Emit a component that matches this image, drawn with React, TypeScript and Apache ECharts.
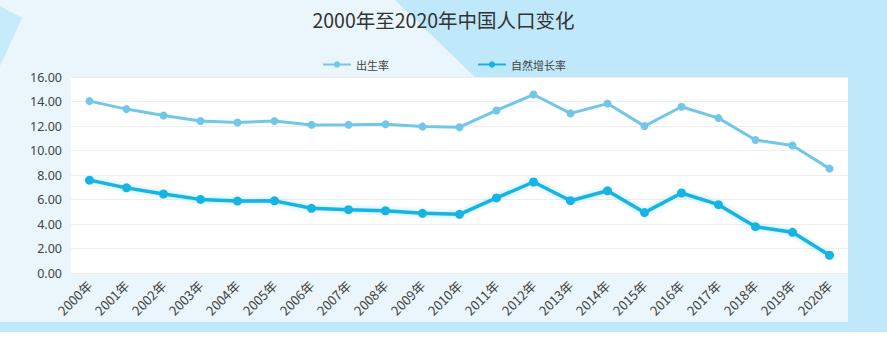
import React, { useEffect, useRef } from "react";
import * as echarts from "echarts";

const years = [
  "2000年", "2001年", "2002年", "2003年", "2004年", "2005年", "2006年", "2007年",
  "2008年", "2009年", "2010年", "2011年", "2012年", "2013年", "2014年", "2015年",
  "2016年", "2017年", "2018年", "2019年", "2020年",
];
const birthRate = [
  14.03, 13.38, 12.86, 12.41, 12.29, 12.4, 12.09, 12.1, 12.14, 11.95, 11.9,
  13.27, 14.57, 13.03, 13.83, 11.99, 13.57, 12.64, 10.86, 10.41, 8.52,
];
const naturalGrowth = [
  7.58, 6.95, 6.45, 6.01, 5.87, 5.89, 5.28, 5.17, 5.08, 4.87, 4.79,
  6.13, 7.43, 5.9, 6.71, 4.93, 6.53, 5.58, 3.78, 3.32, 1.45,
];
const seriesNames = ["出生率", "自然增长率"];
const titleText = "2000年至2020年中国人口变化";

export default function App() {
  const ref = useRef<HTMLDivElement>(null);
  useEffect(() => {
    document.body.style.margin = "0";
    const chart = echarts.init(ref.current!, null, { renderer: "svg" });
    const light = "#eaf6fb";
    const blue = "#bfe9fa";
    chart.setOption({
      animation: false,
      backgroundColor: light,
      graphic: [
        { type: "polygon", silent: true, z: -10, shape: { points: [[395, 0], [887, 0], [887, 80], [478, 80]] }, style: { fill: blue } },
        { type: "polygon", silent: true, z: -10, shape: { points: [[0, 6], [22, 18], [0, 66]] }, style: { fill: "#c6ebf9" } },
        { type: "rect", silent: true, z: -10, shape: { x: 848, y: 0, width: 39, height: 332 }, style: { fill: blue } },
        { type: "rect", silent: true, z: -10, shape: { x: 0, y: 322, width: 887, height: 10 }, style: { fill: blue } },
        { type: "rect", silent: true, z: -10, shape: { x: 0, y: 332, width: 887, height: 9 }, style: { fill: "#ffffff" } },
      ],
      title: {
        text: titleText,
        left: "center",
        top: 5,
        textStyle: { fontSize: 19.5, fontWeight: "normal", color: "#333", fontFamily: "Noto Sans CJK SC" },
      },
      legend: {
        data: seriesNames,
        top: 54,
        left: 317,
        itemGap: 88,
        itemWidth: 28,
        itemHeight: 8,
        textStyle: { fontSize: 11, color: "#444", fontFamily: "Noto Sans CJK SC" },
      },
      grid: {
        left: 71,
        right: 39,
        top: 77,
        bottom: 68,
        show: true,
        backgroundColor: "#ffffff",
        borderWidth: 0,
      },
      xAxis: {
        type: "category",
        data: years,
        boundaryGap: true,
        axisLine: { show: true, lineStyle: { color: "#eeeeee" } },
        axisTick: { show: false },
        axisLabel: { rotate: 45, fontSize: 13, color: "#444", margin: 10, interval: 0, fontFamily: "Noto Sans CJK SC" },
      },
      yAxis: {
        type: "value",
        min: 0,
        max: 16,
        interval: 2,
        axisLine: { show: false },
        axisTick: { show: false },
        splitLine: { lineStyle: { color: "#eeeeee" } },
        axisLabel: {
          fontSize: 12.5,
          color: "#444",
          margin: 9,
          formatter: (v: number) => v.toFixed(2),
          fontFamily: "Noto Sans",
        },
      },
      series: [
        {
          name: seriesNames[0],
          type: "line",
          data: birthRate,
          symbol: "circle",
          symbolSize: 8,
          itemStyle: { color: "#72c7e8" },
          lineStyle: { width: 3, color: "#72c7e8" },
        },
        {
          name: seriesNames[1],
          type: "line",
          data: naturalGrowth,
          symbol: "circle",
          symbolSize: 9,
          itemStyle: { color: "#16b4e2" },
          lineStyle: { width: 3.5, color: "#16b4e2", shadowColor: "rgba(22,180,226,0.35)", shadowBlur: 5 },
        },
      ],
    });
    return () => chart.dispose();
  }, []);
  return <div ref={ref} style={{ width: 887, height: 341 }} />;
}
